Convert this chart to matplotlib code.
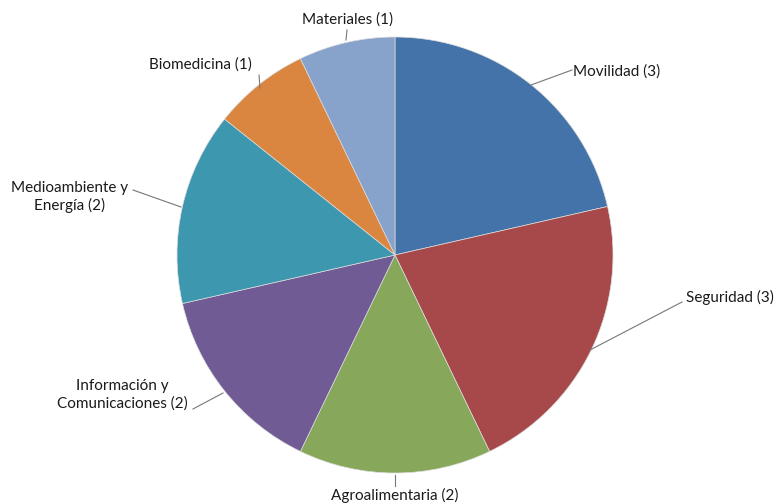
import matplotlib
matplotlib.use("Agg")
import matplotlib.pyplot as plt

# Slices clockwise from 12 o'clock
labels = ["Movilidad (3)", "Seguridad (3)", "Agroalimentaria (2)",
          "Información y\nComunicaciones (2)", "Medioambiente y\nEnergía (2)",
          "Biomedicina (1)", "Materiales (1)"]
values = [3, 3, 2, 2, 2, 1, 1]
colors = ["#4373A9", "#A7494A", "#87A85A", "#705B95", "#3C97AF", "#DA8641", "#87A3CB"]

# label text anchor (pixel coords, y from top), alignment, leader line start/end
label_pos = [(573, 72, "left"), (686, 297, "left"), (395, 495, "center"),
             (122, 395, "center"), (70, 197, "center"), (200, 65, "center"),
             (348, 20, "center")]
leaders = [((572, 70), (531, 85)), ((682, 302), (590, 350)), ((395, 486), (395, 475)),
           ((193, 409), (223, 393)), ((133, 190), (181, 207)), ((259, 75), (260, 88)),
           ((347, 30), (346, 40))]

W, H = 778, 504
fig = plt.figure(figsize=(W / 100, H / 100), dpi=100)
ax = fig.add_axes([0, 0, 1, 1])

ax.pie(values, colors=colors, startangle=90, counterclock=False,
       center=(395, H - 255), radius=218, frame=True,
       wedgeprops=dict(edgecolor="#dcdcdc", linewidth=0.5))
ax.set_xlim(0, W); ax.set_ylim(0, H); ax.axis("off")

for (x, y, ha), lab, (p0, p1) in zip(label_pos, labels, leaders):
    ax.text(x, H - y, lab, ha=ha, va="center", fontsize=11, family="Lato",
            color="#1a1a1a", linespacing=1.3)
    ax.plot([p0[0], p1[0]], [H - p0[1], H - p1[1]], color="#777777", lw=0.8)

fig.savefig("out.png", dpi=100)
